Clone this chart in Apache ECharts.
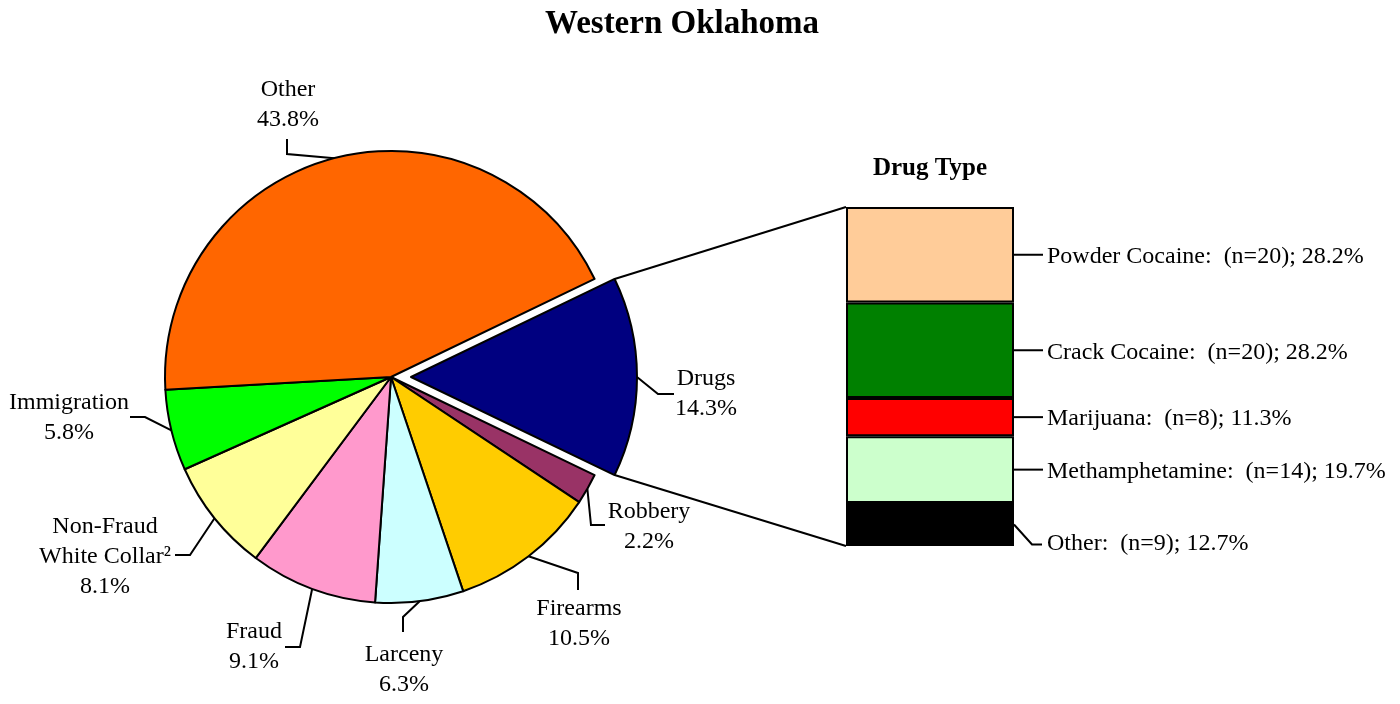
<!DOCTYPE html>
<html>
<head>
<meta charset="utf-8">
<title>Western Oklahoma</title>
<script src="https://cdn.jsdelivr.net/npm/echarts@6/dist/echarts.min.js"></script>
<style>
  html, body { margin: 0; padding: 0; background: #fff; }
  #chart { width: 1400px; height: 704px; }
</style>
</head>
<body>
<div id="chart"></div>
<script>
// offense types, clockwise starting from Drugs
const offenseNames = ['Drugs', 'Robbery', 'Firearms', 'Larceny', 'Fraud', 'Non-Fraud\nWhite Collar²', 'Immigration', 'Other'];
const offensePct = [14.3, 2.2, 10.5, 6.3, 9.1, 8.1, 5.8, 43.8];
const offenseColors = ['#000080', '#993366', '#FFCC00', '#CCFFFF', '#FF99CC', '#FFFF99', '#00FF00', '#FF6600'];

// drug type breakdown (top to bottom of the stacked bar)
const drugNames = ['Powder Cocaine', 'Crack Cocaine', 'Marijuana', 'Methamphetamine', 'Other'];
const drugCounts = [20, 20, 8, 14, 9];
const drugPct = [28.2, 28.2, 11.3, 19.7, 12.7];
const drugColors = ['#FFCC99', '#008000', '#FF0000', '#CCFFCC', '#000000'];

const FONT = 'Liberation Serif';

// pie layout
const pieCx = 391, pieCy = 377, pieR = 226, explode = 20;
const pieTotal = offensePct.reduce((a, b) => a + b, 0);
const startAngle = offensePct[0] / pieTotal * 360 / 2;  // Drugs centred on 3 o'clock

// where each pie label sits + the bend of its leader line
const labelSpots = [
    { x: 706, y: 394, bend: [658, 394], end: [674, 394] },  // Drugs
    { x: 649, y: 527, bend: [591, 525], end: [605, 525] },  // Robbery
    { x: 579, y: 624, bend: [578, 573], end: [578, 590] },  // Firearms
    { x: 404, y: 670, bend: [403, 617], end: [403, 632] },  // Larceny
    { x: 254, y: 647, bend: [300, 647], end: [285, 647] },  // Fraud
    { x: 105, y: 557, bend: [190, 555], end: [175, 555] },  // Non-Fraud
    { x: 69, y: 418, bend: [145, 417], end: [130, 417] },   // Immigration
    { x: 288, y: 105, bend: [287, 154], end: [287, 139] }   // Other
];

// bar layout
const barLeft = 846, barTop = 207, barWidth = 168, barHeight = 339;
const drugTotal = drugPct.reduce((a, b) => a + b, 0);

const chart = echarts.init(document.getElementById('chart'));

const hidden = {
    itemStyle: { color: 'transparent', borderWidth: 0 },
    label: { show: false },
    labelLine: { show: false }
};

// main pie: everything but Drugs; exploded pie: only Drugs (same angles)
function pieData(showDrugsOnly) {
    return offenseNames.map((name, i) => {
        const visible = showDrugsOnly ? i === 0 : i !== 0;
        return Object.assign({ name: name, value: offensePct[i] },
            visible ? { itemStyle: { color: offenseColors[i] } } : hidden);
    });
}

function pieSeries(cx, showDrugsOnly) {
    return {
        type: 'pie',
        center: [cx, pieCy],
        radius: pieR,
        startAngle: startAngle,
        clockwise: true,
        avoidLabelOverlap: false,
        itemStyle: { borderColor: '#000', borderWidth: 2 },
        label: {
            show: true,
            position: 'outside',
            formatter: p => p.name + '\n' + p.value.toFixed(1) + '%',
            fontFamily: FONT,
            fontSize: 24,
            lineHeight: 30,
            color: '#000'
        },
        labelLine: { show: true, lineStyle: { color: '#000', width: 2 } },
        labelLayout: function (params) {
            const spot = labelSpots[params.dataIndex];
            const pts = params.labelLinePoints;
            const anchor = pts ? pts[0] : spot.bend;
            return {
                x: spot.x,
                y: spot.y,
                align: 'center',
                verticalAlign: 'middle',
                labelLinePoints: [anchor, spot.bend, spot.end]
            };
        },
        emphasis: { disabled: true },
        silent: true,
        data: pieData(showDrugsOnly)
    };
}

const barSeries = drugNames.map((name, i) => ({
    name: name,
    type: 'bar',
    stack: 'drugs',
    barWidth: '100%',
    data: [drugPct[i]],
    itemStyle: { color: drugColors[i], borderColor: '#000', borderWidth: 2 },
    label: {
        show: true,
        position: 'right',
        distance: 33,
        offset: i === drugNames.length - 1 ? [0, 19] : [0, 2],
        formatter: `${name}:  (n=${drugCounts[i]}); ${drugPct[i].toFixed(1)}%`,
        fontFamily: FONT,
        fontSize: 24,
        color: '#000'
    },
    emphasis: { disabled: true },
    silent: true
}));

chart.setOption({
    animation: false,
    title: [
        {
            text: 'Western Oklahoma',
            left: 677,
            top: 3,
            textAlign: 'center',
            textStyle: { fontFamily: FONT, fontSize: 33, fontWeight: 'bold', color: '#000' }
        },
        {
            text: 'Drug Type',
            left: barLeft + barWidth / 2 - 5,
            top: 151,
            textAlign: 'center',
            textStyle: { fontFamily: FONT, fontSize: 25, fontWeight: 'bold', color: '#000' }
        }
    ],
    grid: { left: barLeft, top: barTop, width: barWidth, height: barHeight },
    xAxis: { type: 'category', data: ['Drugs'], show: false },
    yAxis: { type: 'value', min: 0, max: drugTotal, inverse: true, show: false },
    series: [
        pieSeries(pieCx, false),
        pieSeries(pieCx + explode, true)
    ].concat(barSeries)
});

// connector lines from exploded Drugs slice to the bar, plus bar label leaders
function drawGuides() {
    const half = offensePct[0] / pieTotal * 360 / 2;
    const toRad = Math.PI / 180;
    const ecx = pieCx + explode, ecy = pieCy;
    const topPt = [ecx + pieR * Math.cos(half * toRad), ecy - pieR * Math.sin(half * toRad)];
    const botPt = [ecx + pieR * Math.cos(half * toRad), ecy + pieR * Math.sin(half * toRad)];
    const yTop = chart.convertToPixel({ yAxisIndex: 0 }, 0);
    const yBot = chart.convertToPixel({ yAxisIndex: 0 }, drugTotal);
    const barRight = barLeft + barWidth;

    const lineStyle = { stroke: '#000', lineWidth: 2 };
    const elements = [
        { type: 'polyline', shape: { points: [topPt, [barLeft, yTop]] }, style: lineStyle, silent: true },
        { type: 'polyline', shape: { points: [botPt, [barLeft, yBot]] }, style: lineStyle, silent: true }
    ];

    let cum = 0;
    drugPct.forEach((v, i) => {
        const mid = chart.convertToPixel({ yAxisIndex: 0 }, cum + v / 2);
        cum += v;
        let pts;
        if (i === drugPct.length - 1) {
            pts = [[barRight, mid], [barRight + 18, mid + 20], [barRight + 28, mid + 20]];
        } else {
            pts = [[barRight, mid], [barRight + 29, mid]];
        }
        elements.push({ type: 'polyline', shape: { points: pts }, style: lineStyle, silent: true });
    });

    chart.setOption({ graphic: elements });
}

drawGuides();
</script>
</body>
</html>
